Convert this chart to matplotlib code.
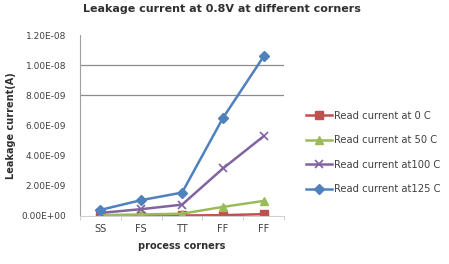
import matplotlib
matplotlib.use("Agg")
import matplotlib.pyplot as plt
from matplotlib.ticker import FuncFormatter, MultipleLocator

# process corners on the x axis
corners = ["SS", "FS", "TT", "FF", "FF"]

# leakage current (A) per temperature
read_0c = [0.02e-9, 0.02e-9, 0.03e-9, 0.05e-9, 0.12e-9]
read_50c = [0.05e-9, 0.10e-9, 0.15e-9, 0.60e-9, 1.00e-9]
read_100c = [0.20e-9, 0.45e-9, 0.75e-9, 3.15e-9, 5.30e-9]
read_125c = [0.40e-9, 1.05e-9, 1.55e-9, 6.50e-9, 1.06e-8]

series_labels = ["Read current at 0 C", "Read current at 50 C",
                 "Read current at100 C", "Read current at125 C"]
grid_levels = [8e-9, 1e-8]

fig = plt.figure(figsize=(4.49, 2.64), dpi=100)
ax = fig.add_axes([0.178, 0.182, 0.455, 0.685])

x = range(len(corners))
ax.plot(x, read_0c, color="#C0504D", marker="s", markersize=5.5, lw=1.8,
        label=series_labels[0])
ax.plot(x, read_50c, color="#9BBB59", marker="^", markersize=6, lw=1.8,
        label=series_labels[1])
ax.plot(x, read_100c, color="#8064A2", marker="x", markersize=6, mew=1.2,
        lw=1.8, label=series_labels[2])
ax.plot(x, read_125c, color="#4F81BD", marker="D", markersize=5, lw=1.8,
        label=series_labels[3])

for g in grid_levels:
    ax.axhline(g, color="#8c8c8c", lw=0.9, zorder=0)

ax.set_xlim(-0.5, len(corners) - 0.5)
ax.set_ylim(0, 1.2e-8)
ax.yaxis.set_major_locator(MultipleLocator(2e-9))
ax.yaxis.set_major_formatter(FuncFormatter(lambda v, p: "%.2E" % v))
ax.set_xticks(list(x))
ax.set_xticklabels(corners)
ax.set_xticks([i + 0.5 for i in range(-1, len(corners))], minor=True)
ax.tick_params(axis="x", which="major", length=0, labelsize=7,
               colors="#404040", pad=6)
ax.tick_params(axis="x", which="minor", length=3, color="#c8c8c8")
ax.tick_params(axis="y", length=0, labelsize=6.5, colors="#404040", pad=10)

for s in ["top", "right"]:
    ax.spines[s].set_visible(False)
ax.spines["left"].set_color("#a0a0a0")
ax.spines["bottom"].set_color("#d0d0d0")

ax.set_xlabel("process corners", fontsize=7, fontweight="bold",
              color="#303030", labelpad=5)
ax.set_ylabel("Leakage current(A)", fontsize=7, fontweight="bold",
              color="#303030", labelpad=4)
fig.suptitle("Leakage current at 0.8V at different corners", fontsize=8,
             fontweight="bold", color="#303030", x=0.495, y=0.985)

fig.legend(loc="upper left", bbox_to_anchor=(0.662, 0.615), frameon=False,
           fontsize=7.2, handlelength=2.6, handletextpad=0.2,
           labelspacing=1.45, labelcolor="#404040")

fig.savefig("out.png", dpi=100)
